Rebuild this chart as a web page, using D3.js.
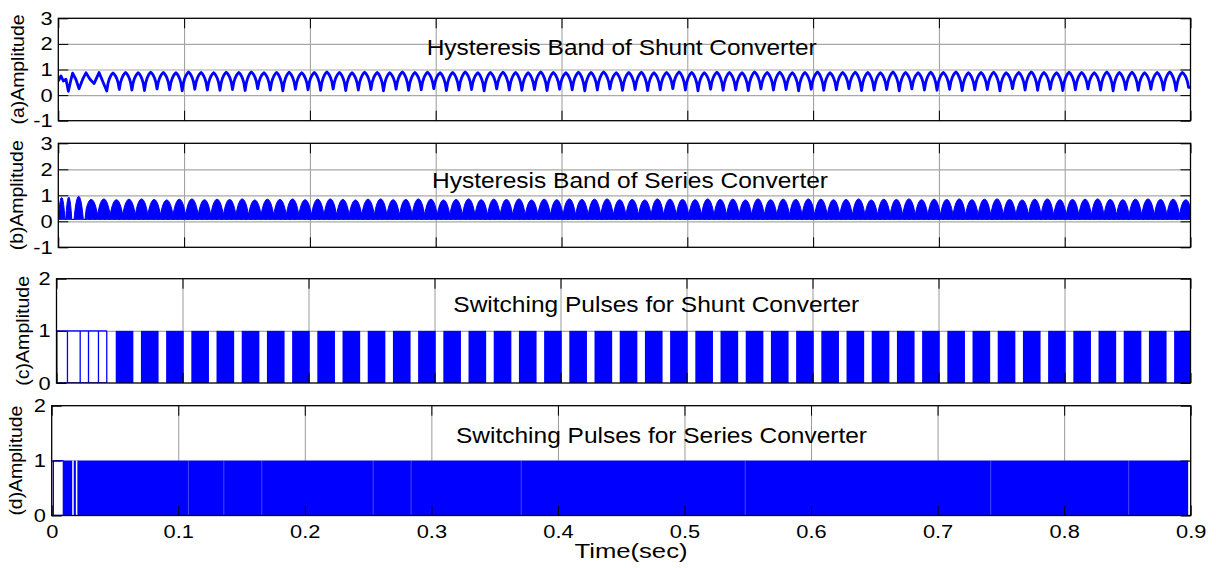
<!DOCTYPE html>
<html>
<head>
<meta charset="utf-8">
<script src="https://cdn.jsdelivr.net/npm/d3@7"></script>
<style>
  body { margin: 0; background: #fff; }
  svg text { font-family: "Liberation Sans", Arial, sans-serif; fill: #000; }
</style>
</head>
<body>
<div id="chart"></div>
<script>
// ---- axis data ----
const xTicks = [0, 0.1, 0.2, 0.3, 0.4, 0.5, 0.6, 0.7, 0.8, 0.9]
const xTickLabels = ["0", "0.1", "0.2", "0.3", "0.4", "0.5", "0.6", "0.7", "0.8", "0.9"]
const bandTicks = [-1, 0, 1, 2, 3]
const pulseTicks = [0, 1, 2]
const panelTitles = ["Hysteresis Band of Shunt Converter", "Hysteresis Band of Series Converter",
    "Switching Pulses for Shunt Converter", "Switching Pulses for Series Converter"]
const panelYLabels = ["(a)Amplitude", "(b)Amplitude", "(c)Amplitude", "(d)Amplitude"]
const xLabel = "Time(sec)"

// ---- (a) shunt hysteresis band ----
// irregular start (time, value)
const shuntStartT = [0, 0.0021, 0.004, 0.0061, 0.008, 0.0098, 0.0114, 0.0141, 0.0165, 0.0194, 0.022, 0.0252, 0.0284, 0.0324]
const shuntStartV = [0.55, 0.75, 0.55, 0.62, 0.15, 0.55, 0.86, 0.6, 0.25, 0.62, 0.87, 0.62, 0.45, 0.88]
// regular arches: first cusp and spacing
const shuntCycleT0 = 0.0385
const shuntPeriod = 0.01
const shuntPeaks = [
    0.86, 0.88, 0.87, 0.89, 0.88, 0.87, 0.9, 0.88, 0.87, 0.89,
    0.88, 0.9, 0.87, 0.88, 0.89, 0.87, 0.88, 0.9, 0.88, 0.87,
    0.89, 0.88, 0.87, 0.9, 0.88, 0.89, 0.87, 0.88, 0.9, 0.87,
    0.88, 0.89, 0.88, 0.87, 0.9, 0.88, 0.87, 0.89, 0.88, 0.9,
    0.87, 0.88, 0.89, 0.87, 0.88, 0.9, 0.88, 0.87, 0.89, 0.88,
    0.87, 0.9, 0.88, 0.89, 0.87, 0.88, 0.9, 0.87, 0.88, 0.89,
    0.88, 0.87, 0.9, 0.88, 0.87, 0.89, 0.88, 0.9, 0.87, 0.88,
    0.89, 0.87, 0.88, 0.9, 0.88, 0.87, 0.89, 0.88, 0.87, 0.9,
    0.88, 0.89, 0.87, 0.88, 0.9, 0.88]
const shuntTroughs = [
    0.16, 0.22, 0.2, 0.18, 0.24, 0.21, 0.17, 0.23, 0.2, 0.19,
    0.22, 0.18, 0.25, 0.2, 0.17, 0.23, 0.21, 0.19, 0.24, 0.18,
    0.2, 0.22, 0.17, 0.23, 0.19, 0.21, 0.25, 0.18, 0.2, 0.22,
    0.17, 0.24, 0.2, 0.19, 0.22, 0.18, 0.23, 0.21, 0.17, 0.2,
    0.24, 0.19, 0.22, 0.18, 0.21, 0.25, 0.2, 0.17, 0.23, 0.19,
    0.21, 0.18, 0.24, 0.2, 0.22, 0.17, 0.23, 0.19, 0.21, 0.25,
    0.18, 0.2, 0.22, 0.17, 0.24, 0.2, 0.19, 0.23, 0.18, 0.21,
    0.22, 0.17, 0.25, 0.2, 0.19, 0.23, 0.18, 0.21, 0.24, 0.2,
    0.17, 0.22, 0.19, 0.23, 0.2, 0.18, 0.3]
// shape of one arch between two cusps (0 = cusp, 1 = top)
const shuntArch = [0, 0.42, 0.66, 0.82, 0.93, 1, 0.93, 0.82, 0.66, 0.42, 0]

// ---- (b) series hysteresis band ----
const seriesEarlyArches = [[0, 0.0053, 0.92], [0.0059, 0.0107, 0.93], [0.0125, 0.0199, 0.96]]
const seriesCycleT0 = 0.0212
const seriesPeriod = 0.01
const seriesPeaks = [
    0.84, 0.86, 0.83, 0.85, 0.86, 0.84, 0.82, 0.85, 0.86, 0.83,
    0.85, 0.84, 0.86, 0.82, 0.85, 0.84, 0.86, 0.83, 0.85, 0.86,
    0.84, 0.82, 0.85, 0.86, 0.83, 0.84, 0.86, 0.85, 0.82, 0.84,
    0.86, 0.83, 0.85, 0.84, 0.86, 0.82, 0.85, 0.83, 0.86, 0.84,
    0.85, 0.86, 0.83, 0.84, 0.82, 0.86, 0.85, 0.84, 0.83, 0.86,
    0.84, 0.85, 0.82, 0.86, 0.83, 0.85, 0.84, 0.86, 0.85, 0.83,
    0.84, 0.86, 0.82, 0.85, 0.84, 0.86, 0.83, 0.85, 0.84, 0.86,
    0.83, 0.85, 0.86, 0.84, 0.82, 0.85, 0.86, 0.83, 0.84, 0.85,
    0.86, 0.84, 0.83, 0.85, 0.86, 0.84, 0.85, 0.83]
const seriesNotch = 0.25
const seriesFloor = 0.07
const seriesArch = [0, 0.4, 0.68, 0.86, 0.97, 1, 0.97, 0.86, 0.68, 0.4, 0]

// ---- (c) shunt switching pulses ----
const shuntEarlyEdges = [0.0003, 0.0087, 0.0188, 0.0254, 0.0333, 0.0399]
const shuntPulseOn = [
    0.047, 0.067, 0.087, 0.107, 0.127, 0.147, 0.167, 0.187, 0.207, 0.227,
    0.247, 0.267, 0.287, 0.307, 0.327, 0.347, 0.367, 0.387, 0.407, 0.427,
    0.447, 0.467, 0.487, 0.507, 0.527, 0.547, 0.567, 0.587, 0.607, 0.627,
    0.647, 0.667, 0.687, 0.707, 0.727, 0.747, 0.767, 0.787, 0.807, 0.827,
    0.847, 0.867, 0.887]
const shuntPulseOff = [
    0.061, 0.081, 0.101, 0.121, 0.141, 0.161, 0.181, 0.201, 0.221, 0.241,
    0.261, 0.281, 0.301, 0.321, 0.341, 0.361, 0.381, 0.401, 0.421, 0.441,
    0.461, 0.481, 0.501, 0.521, 0.541, 0.561, 0.581, 0.601, 0.621, 0.641,
    0.661, 0.681, 0.701, 0.721, 0.741, 0.761, 0.781, 0.801, 0.821, 0.841,
    0.861, 0.881, 0.9]

// ---- (d) series switching pulses ----
const seriesEarlyEdges = [0.0013, 0.0092]
const seriesPulseOn = [0.0095]
const seriesPulseOff = [0.898]
const seriesGaps = [0.0168, 0.0197]
const seriesFaintGaps = [0.108, 0.136, 0.166, 0.254, 0.284, 0.371, 0.548, 0.742, 0.851]

const W = 1216, H = 568
const blue = "#0000ff"

const panels = [
    { left: 58.3, right: 1190.5, top: 18.3, bottom: 120.7, yDomain: [-1, 3], yTicks: bandTicks, labelX: 24, titleX: 426.7, titleY: 55, titleW: 390 },
    { left: 58.3, right: 1190.5, top: 143.3, bottom: 247.3, yDomain: [-1, 3], yTicks: bandTicks, labelX: 22.5, titleX: 432, titleY: 188, titleW: 396 },
    { left: 56.5, right: 1190.5, top: 278.7, bottom: 383, yDomain: [0, 2], yTicks: pulseTicks, labelX: 29, titleX: 453.3, titleY: 312, titleW: 406 },
    { left: 51.7, right: 1190.7, top: 405.7, bottom: 515.5, yDomain: [0, 2], yTicks: pulseTicks, labelX: 22, titleX: 456, titleY: 443, titleW: 411 }
]

const svg = d3.select("#chart").append("svg")
    .attr("width", W)
    .attr("height", H)

const makePanel = (i) => {
    const p = panels[i]
    const x = d3.scaleLinear().domain([0, 0.9]).range([p.left, p.right])
    const y = d3.scaleLinear().domain(p.yDomain).range([p.bottom, p.top])
    const g = svg.append("g")

    // grid
    g.append("g").attr("transform", `translate(0,${p.bottom})`)
        .call(d3.axisBottom(x).tickValues(xTicks.slice(1, -1)).tickSize(-(p.bottom - p.top)).tickFormat(""))
        .call(a => a.select(".domain").remove())
        .selectAll("line").attr("stroke", "#9a9a9a")
    g.append("g").attr("transform", `translate(${p.left},0)`)
        .call(d3.axisLeft(y).tickValues(p.yTicks.slice(1, -1)).tickSize(-(p.right - p.left)).tickFormat(""))
        .call(a => a.select(".domain").remove())
        .selectAll("line").attr("stroke", "#a8a8a8").attr("stroke-width", 1.2)

    svg.append("clipPath").attr("id", "clip" + i)
        .append("rect").attr("x", p.left).attr("y", p.top)
        .attr("width", p.right - p.left).attr("height", p.bottom - p.top)
    const data = g.append("g").attr("clip-path", `url(#clip${i})`)

    return { p, x, y, g, data }
}

const finishPanel = (pan, i) => {
    const { p, x, y, g } = pan
    const axes = g.append("g")

    axes.append("g").attr("transform", `translate(${p.left},0)`)
        .call(d3.axisLeft(y).tickValues(p.yTicks).tickSizeInner(-10).tickSizeOuter(0).tickPadding(5)
            .tickFormat(d => String(d)))
    axes.append("g").attr("transform", `translate(${p.right},0)`)
        .call(d3.axisRight(y).tickValues(p.yTicks).tickSizeInner(-10).tickSizeOuter(0).tickFormat(""))
    axes.append("g").attr("transform", `translate(0,${p.top})`)
        .call(d3.axisTop(x).tickValues(xTicks).tickSizeInner(-10).tickSizeOuter(0).tickFormat(""))
    axes.append("g").attr("transform", `translate(0,${p.bottom})`)
        .call(d3.axisBottom(x).tickValues(xTicks).tickSizeInner(-10).tickSizeOuter(0).tickPadding(9)
            .tickFormat((d, k) => i === 3 ? xTickLabels[k] : ""))

    axes.selectAll(".domain").remove()
    axes.selectAll(".tick line").attr("stroke", "#000")
    axes.selectAll("text").attr("font-size", 19).attr("font-family", null)
        .attr("transform", "scale(1.15,1)")

    axes.append("rect")
        .attr("x", p.left).attr("y", p.top)
        .attr("width", p.right - p.left).attr("height", p.bottom - p.top)
        .attr("fill", "none").attr("stroke", "#000").attr("stroke-width", 1.3)

    // title inside axes
    g.append("text")
        .attr("x", p.titleX).attr("y", p.titleY)
        .attr("font-size", 22)
        .attr("textLength", p.titleW).attr("lengthAdjust", "spacingAndGlyphs")
        .text(panelTitles[i])

    // y label
    g.append("text")
        .attr("transform", `translate(${p.labelX},${(p.top + p.bottom) / 2}) rotate(-90)`)
        .attr("text-anchor", "middle")
        .attr("font-size", 19)
        .attr("textLength", 110).attr("lengthAdjust", "spacingAndGlyphs")
        .text(panelYLabels[i])
}

// ---------- (a) ----------
{
    const pan = makePanel(0)
    const pts = shuntStartT.map((t, k) => [t, shuntStartV[k]])
    shuntPeaks.forEach((pk, k) => {
        const t0 = shuntCycleT0 + k * shuntPeriod
        shuntArch.forEach((s, j) => {
            if (j === shuntArch.length - 1 && k < shuntPeaks.length - 1) return
            const base = j < 5 ? shuntTroughs[k] : shuntTroughs[k + 1]
            pts.push([t0 + j * shuntPeriod / 10, base + (pk - base) * s])
        })
    })
    // tail after the last cusp
    pts.push([0.9, shuntTroughs[shuntTroughs.length - 1]])
    const line = d3.line().x(d => pan.x(d[0])).y(d => pan.y(d[1]))
    pan.data.append("path").datum(pts)
        .attr("d", line)
        .attr("fill", "none").attr("stroke", blue).attr("stroke-width", 2.8)
        .attr("stroke-linejoin", "round")
    finishPanel(pan, 0)
}

// ---------- (b) ----------
{
    const pan = makePanel(1)
    const pts = []
    seriesEarlyArches.forEach(([a, b, pk]) => {
        seriesArch.forEach((s, j) => {
            pts.push([a + (b - a) * j / 10, seriesFloor + (pk - seriesFloor) * s])
        })
    })
    seriesPeaks.forEach((pk, k) => {
        const t0 = seriesCycleT0 + k * seriesPeriod
        seriesArch.forEach((s, j) => {
            const base = (k === 0 && j === 0) ? seriesFloor : seriesNotch
            pts.push([t0 + j * seriesPeriod / 10, base + (pk - base) * s])
        })
    })
    const area = d3.area().x(d => pan.x(d[0])).y0(pan.y(seriesFloor)).y1(d => pan.y(d[1]))
    pan.data.append("path").datum(pts)
        .attr("d", area)
        .attr("fill", blue).attr("stroke", blue).attr("stroke-width", 1)
    finishPanel(pan, 1)
}

// ---------- (c) ----------
{
    const pan = makePanel(2)
    const { x, y } = pan
    const first = shuntEarlyEdges[0], last = shuntEarlyEdges[shuntEarlyEdges.length - 1]
    const outline = d3.path()
    outline.moveTo(x(first), y(1)); outline.lineTo(x(last), y(1))
    outline.moveTo(x(first), y(0)); outline.lineTo(x(last), y(0))
    shuntEarlyEdges.forEach(t => { outline.moveTo(x(t), y(0)); outline.lineTo(x(t), y(1)) })
    pan.data.append("path").attr("d", outline.toString())
        .attr("fill", "none").attr("stroke", blue).attr("stroke-width", 1.3)

    pan.data.append("g").selectAll("rect")
        .data(shuntPulseOn.map((t, k) => [t, shuntPulseOff[k]]))
        .enter().append("rect")
        .attr("x", d => x(d[0]))
        .attr("width", d => x(d[1]) - x(d[0]))
        .attr("y", y(1))
        .attr("height", y(0) - y(1))
        .attr("fill", blue)
    finishPanel(pan, 2)
}

// ---------- (d) ----------
{
    const pan = makePanel(3)
    const { x, y } = pan
    const first = seriesEarlyEdges[0], last = seriesEarlyEdges[seriesEarlyEdges.length - 1]
    const outline = d3.path()
    outline.moveTo(x(first), y(1)); outline.lineTo(x(last), y(1))
    outline.moveTo(x(first), y(0)); outline.lineTo(x(last), y(0))
    seriesEarlyEdges.forEach(t => { outline.moveTo(x(t), y(0)); outline.lineTo(x(t), y(1)) })
    pan.data.append("path").attr("d", outline.toString())
        .attr("fill", "none").attr("stroke", blue).attr("stroke-width", 1.3)

    pan.data.append("g").selectAll("rect")
        .data(seriesPulseOn.map((t, k) => [t, seriesPulseOff[k]]))
        .enter().append("rect")
        .attr("x", d => x(d[0]))
        .attr("width", d => x(d[1]) - x(d[0]))
        .attr("y", y(1))
        .attr("height", y(0) - y(1))
        .attr("fill", blue)

    pan.data.append("g").selectAll("line")
        .data(seriesGaps.concat(seriesFaintGaps))
        .enter().append("line")
        .attr("x1", d => x(d)).attr("x2", d => x(d))
        .attr("y1", y(1)).attr("y2", y(0))
        .attr("stroke", "#fff")
        .attr("stroke-width", d => seriesGaps.includes(d) ? 1.5 : 0.8)
        .attr("stroke-opacity", d => seriesGaps.includes(d) ? 1 : 0.35)
    finishPanel(pan, 3)

    svg.append("text")
        .attr("x", 631).attr("y", 558)
        .attr("text-anchor", "middle")
        .attr("font-size", 20)
        .attr("textLength", 113).attr("lengthAdjust", "spacingAndGlyphs")
        .text(xLabel)
}
</script>
</body>
</html>
